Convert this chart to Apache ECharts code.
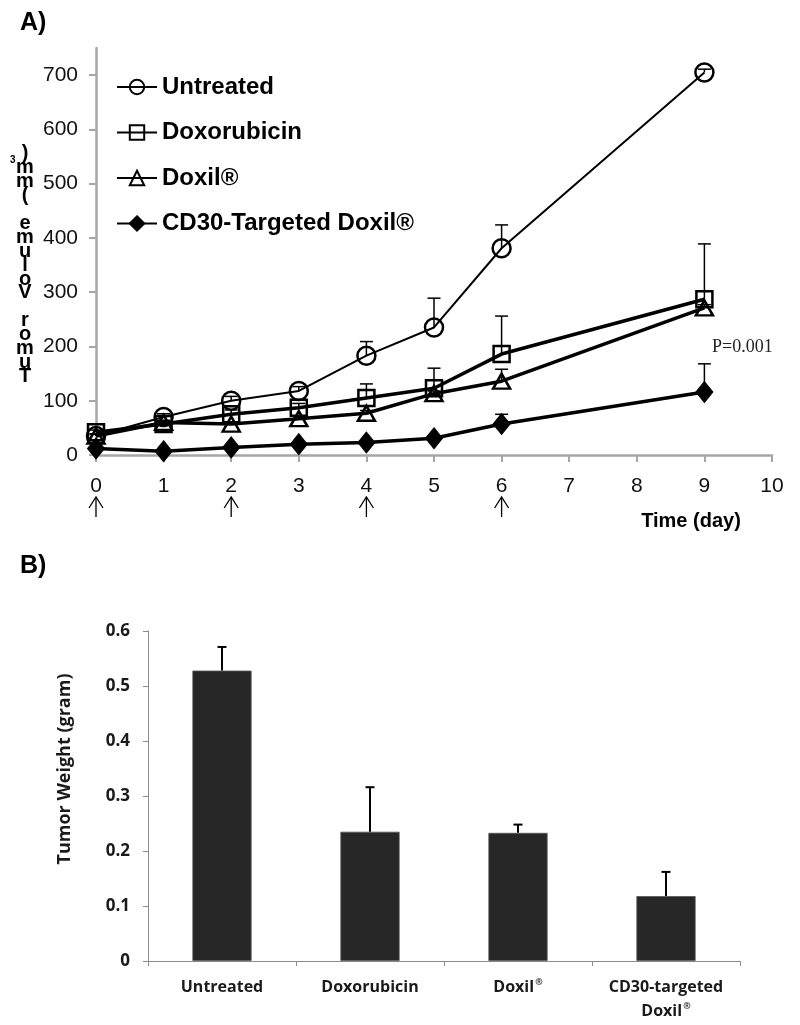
<!DOCTYPE html>
<html>
<head>
<meta charset="utf-8">
<script src="https://cdn.jsdelivr.net/npm/echarts@6/dist/echarts.min.js"></script>
<style>
html,body{margin:0;padding:0;background:#fff;}
#main{width:800px;height:1025px;}
</style>
</head>
<body>
<div id="main"></div>
<script>
// ---- Panel A data ----
const days = [0, 1, 2, 3, 4, 5, 6, 9];
const seriesNames = ['Untreated', 'Doxorubicin', 'Doxil®', 'CD30-Targeted Doxil®'];
const untreated = [35, 70, 100, 118, 183, 235, 381, 705];
const untreatedErr = [4, 6, 8, 8, 26, 54, 43, 6];
const doxorubicin = [42, 57, 75, 87, 105, 123, 186, 287];
const doxorubicinErr = [4, 5, 8, 8, 26, 37, 70, 102];
const doxil = [35, 60, 57, 67, 77, 113, 136, 271];
const doxilErr = [3, 4, 4, 5, 5, 5, 22, 6];
const cd30 = [12, 7, 14, 20, 23, 31, 57, 116];
const cd30Err = [2, 2, 3, 3, 3, 3, 18, 52];
const arrowDays = [0, 2, 4, 6];
const volumeTicks = [0, 100, 200, 300, 400, 500, 600, 700];
const yLabelA = 'Tumor Volume (mm)';
const pValueText = 'P=0.001';

// ---- Panel B data ----
const groups = ['Untreated', 'Doxorubicin', 'Doxil®', 'CD30-targeted\nDoxil®'];
const weights = [0.528, 0.235, 0.233, 0.118];
const weightErr = [0.043, 0.081, 0.015, 0.044];

const chart = echarts.init(document.getElementById('main'), null, {renderer: 'canvas'});

function pts(vals) { return days.map((d, i) => [d, vals[i]]); }
function errPts(vals, errs) { return days.map((d, i) => [d, vals[i], errs[i]]); }

function errRender(capHalf, lw) {
  return function (params, api) {
    const x = api.value(0), v = api.value(1), e = api.value(2);
    if (!e) return null;
    const base = api.coord([x, v]);
    const top = api.coord([x, v + e]);
    return {
      type: 'group',
      children: [
        {type: 'line', shape: {x1: base[0], y1: base[1], x2: top[0], y2: top[1]}, style: {stroke: '#000', lineWidth: lw}},
        {type: 'line', shape: {x1: top[0] - capHalf, y1: top[1], x2: top[0] + capHalf, y2: top[1]}, style: {stroke: '#000', lineWidth: lw}}
      ]
    };
  };
}

const markerStyle = {color: 'rgba(255,255,255,0)', borderColor: '#000', borderWidth: 2.5};
const axisGray = '#a6a6a6';

// stacked y label for panel A (characters stacked bottom-to-top)
const stackText = yLabelA.split('').reverse().join('\n');

const option = {
  animation: false,
  backgroundColor: '#fff',
  textStyle: {fontFamily: 'Liberation Sans'},
  grid: [
    {left: 96, top: 48, width: 676, height: 407, containLabel: false},
    {left: 148, top: 631, width: 592, height: 330, containLabel: false}
  ],
  legend: {
    orient: 'vertical',
    left: 116,
    top: 73,
    padding: 0,
    itemWidth: 40,
    itemHeight: 18,
    itemGap: 17.5,
    data: seriesNames,
    textStyle: {fontSize: 24, fontWeight: 'bold', color: '#000', fontFamily: 'Liberation Sans', lineHeight: 28},
    selectedMode: false
  },
  xAxis: [
    {
      type: 'value', gridIndex: 0, min: 0, max: 10, interval: 1,
      axisLine: {show: true, lineStyle: {color: axisGray, width: 2.5}},
      axisTick: {show: true, length: 7, lineStyle: {color: axisGray, width: 2}},
      axisLabel: {fontSize: 21, color: '#111', margin: 21, fontFamily: 'Liberation Sans'},
      splitLine: {show: false}
    },
    {
      type: 'category', gridIndex: 1, data: groups,
      axisLine: {show: true, lineStyle: {color: '#8c8c8c', width: 1}},
      axisTick: {show: true, length: 5, alignWithLabel: false, lineStyle: {color: '#8c8c8c'}},
      axisLabel: {
        interval: 0, margin: 14, fontSize: 16, fontWeight: 'bold', color: '#1a1a1a', fontFamily: 'Open Sans', lineHeight: 24,
        formatter: v => v.replace(/®/g, '{s|®}'),
        rich: {s: {fontSize: 9, fontWeight: 'bold', fontFamily: 'Open Sans', color: '#1a1a1a', padding: [0, 0, 9, 1]}}
      },
      splitLine: {show: false}
    }
  ],
  yAxis: [
    {
      type: 'value', gridIndex: 0, min: 0, max: 750, interval: 100,
      axisLine: {show: true, lineStyle: {color: axisGray, width: 2.5}},
      axisTick: {show: true, length: 7, customValues: volumeTicks, lineStyle: {color: axisGray, width: 2}},
      axisLabel: {fontSize: 21, color: '#111', margin: 18, customValues: volumeTicks, fontFamily: 'Liberation Sans'},
      splitLine: {show: false}
    },
    {
      type: 'value', gridIndex: 1, min: 0, max: 0.6, interval: 0.1,
      axisLine: {show: true, lineStyle: {color: '#8c8c8c', width: 1}},
      axisTick: {show: true, length: 5, lineStyle: {color: '#8c8c8c'}},
      axisLabel: {fontSize: 17, fontWeight: 'bold', color: '#1a1a1a', margin: 18, fontFamily: 'Open Sans',
        formatter: v => (v === 0 ? '0' : v.toFixed(1))},
      splitLine: {show: false}
    }
  ],
  graphic: [
    {type: 'text', left: 20, top: 11, style: {text: 'A)', font: 'bold 25px "Liberation Sans"', fill: '#000'}},
    {type: 'text', left: 20, top: 554, style: {text: 'B)', font: 'bold 25px "Liberation Sans"', fill: '#000'}},
    {type: 'text', x: 25, y: 147, style: {text: stackText, font: 'bold 20px "Liberation Sans"', fill: '#000', align: 'center', verticalAlign: 'top', lineHeight: 13.9}},
    {type: 'text', x: 10, y: 155, style: {text: '3', font: 'bold 10px "Liberation Sans"', fill: '#000'}},
    {type: 'text', x: 691, y: 521, style: {text: 'Time (day)', font: 'bold 20px "Liberation Sans"', fill: '#000', align: 'center', verticalAlign: 'middle'}},
    {type: 'text', x: 712, y: 347, style: {text: pValueText, font: '18px "Liberation Serif"', fill: '#222', align: 'left', verticalAlign: 'middle'}},
    {type: 'text', x: 65, y: 769, rotation: Math.PI / 2, style: {text: 'Tumor Weight (gram)', font: 'bold 18px "Open Sans"', fill: '#1a1a1a', align: 'center', verticalAlign: 'middle'}}
  ],
  series: [
    {type: 'custom', xAxisIndex: 0, yAxisIndex: 0, data: errPts(untreated, untreatedErr), encode: {x: 0, y: 1}, renderItem: errRender(6.5, 1.5), silent: true, z: 1},
    {type: 'custom', xAxisIndex: 0, yAxisIndex: 0, data: errPts(doxorubicin, doxorubicinErr), encode: {x: 0, y: 1}, renderItem: errRender(6.5, 1.5), silent: true, z: 1},
    {type: 'custom', xAxisIndex: 0, yAxisIndex: 0, data: errPts(doxil, doxilErr), encode: {x: 0, y: 1}, renderItem: errRender(6.5, 1.5), silent: true, z: 1},
    {type: 'custom', xAxisIndex: 0, yAxisIndex: 0, data: errPts(cd30, cd30Err), encode: {x: 0, y: 1}, renderItem: errRender(6.5, 1.5), silent: true, z: 1},
    {
      name: seriesNames[0], type: 'line', xAxisIndex: 0, yAxisIndex: 0, data: pts(untreated),
      symbol: 'circle', symbolSize: 18, lineStyle: {color: '#000', width: 2}, itemStyle: markerStyle, z: 3
    },
    {
      name: seriesNames[1], type: 'line', xAxisIndex: 0, yAxisIndex: 0, data: pts(doxorubicin),
      symbol: 'rect', symbolSize: 16, lineStyle: {color: '#000', width: 3.5}, itemStyle: markerStyle, z: 3
    },
    {
      name: seriesNames[2], type: 'line', xAxisIndex: 0, yAxisIndex: 0, data: pts(doxil),
      symbol: 'triangle', symbolSize: [17, 15], lineStyle: {color: '#000', width: 3.5}, itemStyle: markerStyle, z: 3
    },
    {
      name: seriesNames[3], type: 'line', xAxisIndex: 0, yAxisIndex: 0, data: pts(cd30),
      symbol: 'diamond', symbolSize: [17, 21], lineStyle: {color: '#000', width: 3.5}, itemStyle: {color: '#000', borderColor: '#000', borderWidth: 1}, z: 3
    },
    {
      type: 'custom', xAxisIndex: 0, yAxisIndex: 0, clip: false, silent: true,
      data: arrowDays.map(d => [d, 0]), encode: {x: 0, y: 1},
      renderItem: function (params, api) {
        const p = api.coord([api.value(0), 0]);
        const tip = p[1] + 42, bottom = p[1] + 62, wing = p[1] + 53;
        const st = {stroke: '#000', lineWidth: 1.3};
        return {type: 'group', children: [
          {type: 'line', shape: {x1: p[0], y1: tip, x2: p[0], y2: bottom}, style: st},
          {type: 'polyline', shape: {points: [[p[0] - 7, wing], [p[0], tip], [p[0] + 7, wing]]}, style: Object.assign({fill: null}, st)}
        ]};
      }
    },
    {
      type: 'bar', xAxisIndex: 1, yAxisIndex: 1, data: weights, barWidth: '40%',
      itemStyle: {color: '#272727', borderColor: '#555', borderWidth: 0.8}, z: 2
    },
    {
      type: 'custom', xAxisIndex: 1, yAxisIndex: 1, silent: true, z: 3,
      data: weights.map((w, i) => [i, w, weightErr[i]]), encode: {x: 0, y: 1},
      renderItem: errRender(4.5, 2)
    }
  ]
};
chart.setOption(option);
</script>
</body>
</html>
